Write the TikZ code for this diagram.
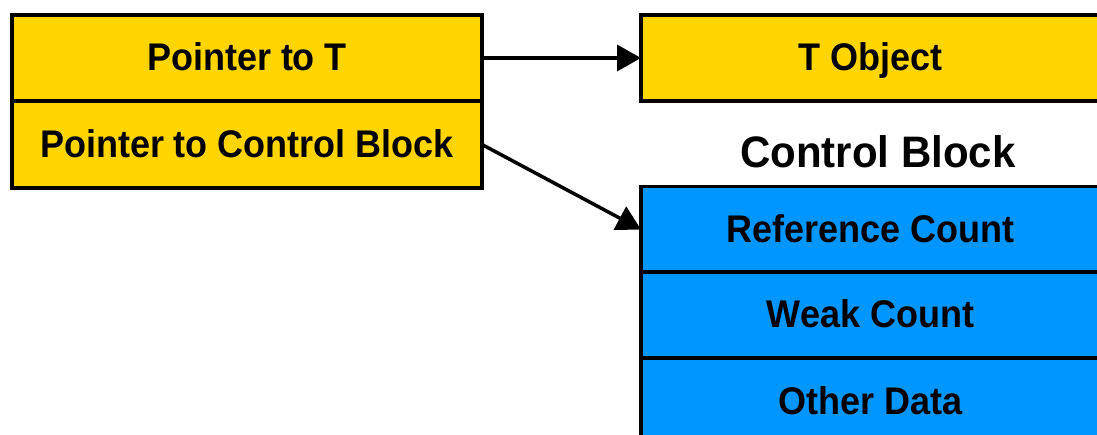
\documentclass[tikz,border=0pt]{standalone}
\usepackage{fontspec}
\setmainfont{Liberation Sans}
\usetikzlibrary{arrows.meta}
\definecolor{ygold}{HTML}{FFD500}
\definecolor{cblue}{HTML}{0096FF}
\tikzset{
  cell/.style={draw=black, line width=3.5pt, rectangle, inner sep=0pt, outer sep=0pt,
    text height=27pt, text depth=1pt,
    font=\fontsize{36}{40}\selectfont\bfseries, text=black},
  ycell/.style={cell, fill=ygold},
  bcell/.style={cell, fill=cblue},
  ptr/.style={line width=3.5pt, -{Triangle[length=24pt,width=26pt]}},
}
\begin{document}
\begin{tikzpicture}[x=1pt,y=-1pt]
\useasboundingbox (0,0) rectangle (1097,435);
\node[ycell, minimum width=470pt, minimum height=86pt] (ptrT) at (247,58) {\scalebox{1}[1.07]{Pointer to T}};
\node[ycell, minimum width=470pt, minimum height=87pt] (ptrCB) at (247,144.5) {\scalebox{1}[1.07]{Pointer to Control Block}};
\node[ycell, minimum width=459pt, minimum height=86pt] (tobj) at (870.5,58) {\scalebox{1}[1.07]{T Object}};
\node[font=\fontsize{42}{46}\selectfont\bfseries] (cblabel) at (878,152) {\scalebox{1}[1.05]{Control Block}};
\node[bcell, minimum width=459pt, minimum height=86pt] (ref) at (870.5,229.5) {\scalebox{1}[1.07]{Reference Count}};
\node[bcell, minimum width=459pt, minimum height=86pt] (weak) at (870.5,315) {\scalebox{1}[1.07]{Weak Count}};
\node[bcell, minimum width=459pt, minimum height=86pt] (other) at (870.5,401) {\scalebox{1}[1.07]{Other Data}};
\draw[ptr] (ptrT.east) -- (tobj.west);
\draw[ptr] (ptrCB.east) -- (ref.west);
\end{tikzpicture}
\end{document}
